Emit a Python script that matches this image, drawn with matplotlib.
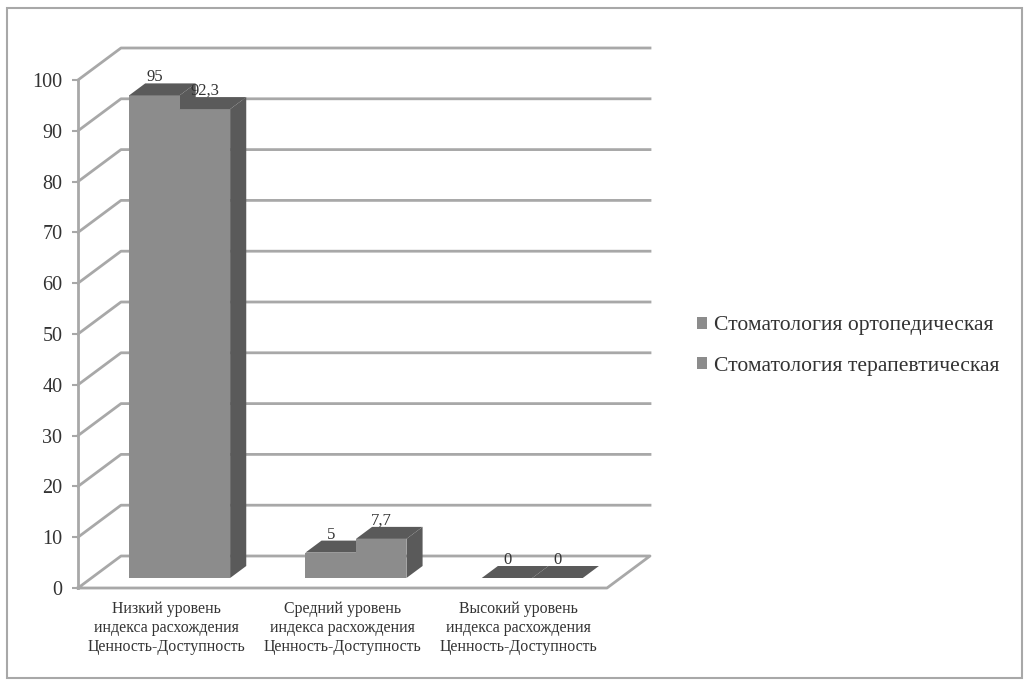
import matplotlib
matplotlib.use('Agg')
import matplotlib.pyplot as plt
from matplotlib.patches import Rectangle

plt.rcParams['font.family'] = ['Liberation Serif', 'DejaVu Serif']

categories = ['Низкий уровень\nиндекса расхождения\nЦенность-Доступность',
              'Средний уровень\nиндекса расхождения\nЦенность-Доступность',
              'Высокий уровень\nиндекса расхождения\nЦенность-Доступность']
series_names = ['Стоматология ортопедическая', 'Стоматология терапевтическая']
orto = [95, 5, 0]
tera = [92.3, 7.7, 0]
orto_labels = ['95', '5', '0']
tera_labels = ['92,3', '7,7', '0']
yticks = list(range(0, 101, 10))

W, H = 1024, 686
GRID = '#a8a8a8'
FRONT = '#8c8c8c'
DARK = '#5a5a5a'
TEXT = '#333333'

fig = plt.figure(figsize=(W / 100, H / 100), dpi=100)
fig.add_artist(Rectangle((7 / W, 1 - 678 / H), 1015 / W, 670 / H, transform=fig.transFigure,
                         fill=False, ec='#a8a8a8', lw=1.5))

# axes box = front wall of the 3d chart, pixels 78..607 and 588..80
ax = fig.add_axes([78 / W, 1 - 588 / H, 529 / W, 508 / H])
ax.set_xlim(-0.5, 2.5)
ax.set_ylim(0, 100)
ax.patch.set_alpha(0)

# fake depth, in data units
depth_x = 43 / (529 / 3)
depth_y = 32 / 5.08

# floor and walls
ax.plot([-0.5, 2.5, 2.5 + depth_x, -0.5 + depth_x, -0.5],
        [0, 0, depth_y, depth_y, 0], color=GRID, lw=2, clip_on=False, zorder=1)
for t in yticks[1:]:
    ax.plot([-0.5, -0.5 + depth_x, 2.5 + depth_x], [t, t + depth_y, t + depth_y],
            color=GRID, lw=2, clip_on=False, zorder=1)

# bars
bar_w = 0.2865
start = 0.3125
thick = 0.375
off_x = depth_x * start
off_y = depth_y * start
dx = depth_x * thick
dy = depth_y * thick
label_gap = 2 / 5.08


def draw_series(values, labels, shift, name, z):
    xs = [i + shift + off_x for i in range(len(values))]
    ax.bar(xs, values, bar_w, bottom=off_y, color=FRONT, label=name, zorder=z + 1)
    for x, v, lab in zip(xs, values, labels):
        l, r = x - bar_w / 2, x + bar_w / 2
        top = v + off_y
        if v > 0:
            ax.fill([r, r + dx, r + dx, r], [off_y, off_y + dy, top + dy, top],
                    color=DARK, lw=0, zorder=z, clip_on=False)
        ax.fill([l, r, r + dx, l + dx], [top, top, top + dy, top + dy],
                color=DARK, lw=0, zorder=z + 2, clip_on=False)
        ax.text(x, top + dy + label_gap, lab, ha='center', va='baseline', fontsize=12,
                color=TEXT, zorder=20, clip_on=False)


draw_series(orto, orto_labels, -bar_w / 2, series_names[0], 3)
draw_series(tera, tera_labels, bar_w / 2, series_names[1], 6)

ax.set_xticks(range(3))
ax.set_xticklabels(categories, fontsize=11.4, color=TEXT, linespacing=1.24)
ax.tick_params(axis='x', length=0, pad=9.5)
ax.set_yticks(yticks)
ax.tick_params(axis='y', length=4.3, width=1.5, color=GRID, labelsize=14.5, labelcolor=TEXT, pad=7)

for s in ['top', 'right', 'bottom']:
    ax.spines[s].set_visible(False)
ax.spines['left'].set_color(GRID)
ax.spines['left'].set_linewidth(2)

fig.legend(loc='center left', bbox_to_anchor=(677 / W, 1 - 346 / H), frameon=False,
           fontsize=15.6, handlelength=0.5, handleheight=0.5, handletextpad=0.3,
           labelspacing=0.98, labelcolor=TEXT)

fig.savefig('out.png', dpi=100)
